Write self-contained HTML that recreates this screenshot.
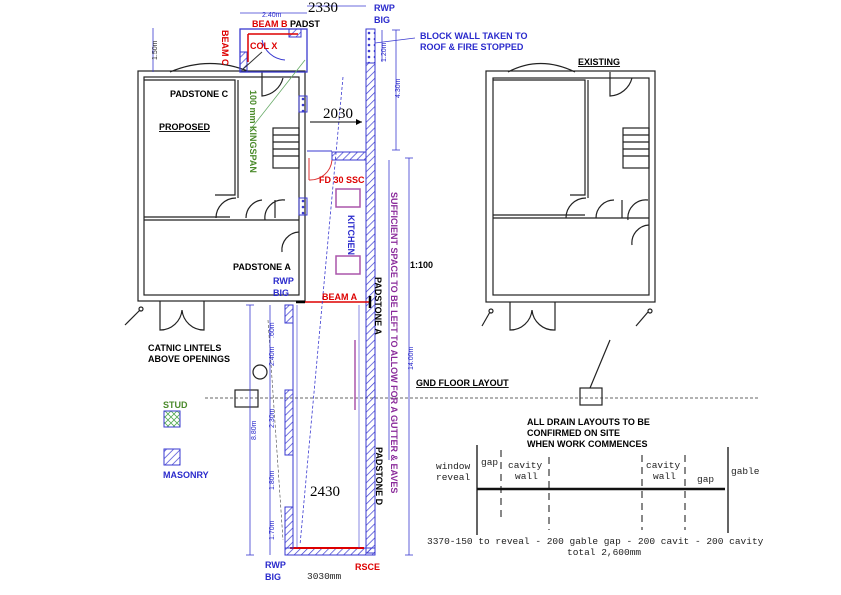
<!DOCTYPE html>
<html><head><meta charset="utf-8"><style>
html,body{margin:0;padding:0;background:#fff;width:841px;height:595px;overflow:hidden}
svg{display:block}
.b{font-family:"Liberation Sans",sans-serif;font-weight:bold;font-size:9px}
.m{font-family:"Liberation Mono",monospace;font-size:9.5px;fill:#222}
.s{font-family:"Liberation Serif",serif;font-size:15px}
</style></head><body>
<svg width="841" height="595" viewBox="0 0 841 595" xmlns="http://www.w3.org/2000/svg">
<defs>
<pattern id="h" width="5" height="5" patternUnits="userSpaceOnUse" patternTransform="rotate(45)"><line x1="0" y1="0" x2="0" y2="5" stroke="#3a3ad0" stroke-width="1.4"/></pattern>
<pattern id="d" width="6" height="6" patternUnits="userSpaceOnUse"><circle cx="3" cy="3" r="1.3" fill="#3a3ad0"/></pattern>
<pattern id="g" width="6" height="6" patternUnits="userSpaceOnUse"><path d="M0 0L6 6M6 0L0 6" stroke="#5a5" stroke-width="0.8"/></pattern>
</defs>
<g fill="none" stroke="#222" stroke-width="1.2">
<rect x="138" y="71" width="167" height="230"/>
<rect x="144" y="77" width="155" height="218"/>
<line x1="144" y1="220" x2="299" y2="220"/><line x1="144" y1="217" x2="230" y2="217"/>
<polyline points="144,80 235,80 235,195 215,195"/><polyline points="238,80 238,198"/>
<path d="M170 72 Q 210 55 250 72"/>
<path d="M262 72 V96 A24 24 0 0 0 283 78"/>
<rect x="273" y="128" width="26" height="40"/>
<line x1="273" y1="135" x2="299" y2="135"/><line x1="273" y1="142" x2="299" y2="142"/><line x1="273" y1="149" x2="299" y2="149"/><line x1="273" y1="156" x2="299" y2="156"/>
<path d="M216 218 A20 20 0 0 1 236 198"/><path d="M246 218 A18 18 0 0 1 262 200"/><path d="M265 220 A18 18 0 0 1 285 200"/>
<path d="M282 252 A18 18 0 0 1 299 232"/>
<line x1="275" y1="200" x2="275" y2="218"/>
<path d="M160 301 V330 A22 22 0 0 0 182 310 M204 301 V330 A22 22 0 0 1 182 310"/>
<line x1="125" y1="325" x2="140" y2="310"/><circle cx="141" cy="309" r="2"/>
<rect x="486" y="71" width="169" height="231"/>
<rect x="493" y="78" width="156" height="217"/>
<line x1="493" y1="218" x2="649" y2="218"/><line x1="493" y1="215" x2="585" y2="215"/>
<polyline points="493,80 585,80 585,195 570,195"/><line x1="588" y1="80" x2="588" y2="198"/>
<path d="M508 72 Q 540 55 575 72"/>
<path d="M610 72 V96 A24 24 0 0 0 632 78"/>
<rect x="623" y="128" width="26" height="40"/>
<line x1="623" y1="135" x2="649" y2="135"/><line x1="623" y1="142" x2="649" y2="142"/><line x1="623" y1="149" x2="649" y2="149"/><line x1="623" y1="156" x2="649" y2="156"/>
<path d="M566 218 A20 20 0 0 1 586 198"/><path d="M596 218 A18 18 0 0 1 614 200"/><path d="M628 220 A18 18 0 0 1 648 200"/>
<path d="M632 245 A18 18 0 0 1 649 225"/><line x1="622" y1="200" x2="622" y2="218"/>
<path d="M510 302 V330 A22 22 0 0 0 532 310 M555 302 V330 A22 22 0 0 1 532 310"/>
<line x1="482" y1="326" x2="490" y2="312"/><circle cx="491" cy="311" r="2"/>
<line x1="636" y1="326" x2="648" y2="312"/><circle cx="650" cy="311" r="2"/>
<rect x="580" y="388" width="22" height="17"/><line x1="590" y1="388" x2="610" y2="340"/>
<rect x="235" y="390" width="23" height="17"/>
<circle cx="260" cy="372" r="7"/>
</g>
<line x1="205" y1="398" x2="760" y2="398" stroke="#333" stroke-dasharray="3,2" stroke-width="0.8"/>
<rect x="240" y="29" width="67" height="43" fill="none" stroke="#3a3ad0" stroke-width="1.3"/>
<rect x="240" y="52" width="7" height="20" fill="url(#h)" stroke="#3a3ad0"/>
<rect x="289" y="29" width="12" height="8" fill="url(#h)" stroke="#3a3ad0"/>
<polyline points="248,34 298,34" stroke="#d00" stroke-width="1.5" fill="none"/>
<line x1="248" y1="34" x2="248" y2="62" stroke="#d00" stroke-width="1.5"/>
<path d="M262 40 A25 25 0 0 0 285 60" fill="none" stroke="#3a3ad0"/>
<line x1="242" y1="70" x2="262" y2="52" stroke="#333"/>
<line x1="250" y1="130" x2="305" y2="60" stroke="#6a6" stroke-width="0.8"/>
<rect x="299" y="96" width="8" height="16" fill="url(#d)" stroke="#3a3ad0"/>
<rect x="299" y="198" width="8" height="17" fill="url(#d)" stroke="#3a3ad0"/>
<rect x="366" y="29" width="9" height="34" fill="url(#d)" stroke="#3a3ad0"/>
<rect x="366" y="63" width="9" height="490" fill="url(#h)" stroke="#3a3ad0"/>
<rect x="285" y="548" width="90" height="7" fill="url(#h)" stroke="#3a3ad0"/>
<line x1="290" y1="548" x2="364" y2="548" stroke="#d00" stroke-width="2"/>
<rect x="285" y="305" width="8" height="18" fill="url(#h)" stroke="#3a3ad0"/>
<rect x="285" y="390" width="8" height="65" fill="url(#h)" stroke="#3a3ad0"/>
<rect x="285" y="507" width="8" height="41" fill="url(#h)" stroke="#3a3ad0"/>
<line x1="293" y1="323" x2="293" y2="390" stroke="#3a3ad0"/><line x1="293" y1="455" x2="293" y2="507" stroke="#3a3ad0"/>
<line x1="297" y1="305" x2="297" y2="548" stroke="#3a3ad0" stroke-width="0.6"/>
<line x1="359" y1="305" x2="359" y2="548" stroke="#3a3ad0" stroke-width="0.6"/>
<rect x="332" y="152" width="34" height="8" fill="url(#h)" stroke="#3a3ad0"/>
<line x1="307" y1="151" x2="332" y2="151" stroke="#3a3ad0"/>
<path d="M309 180 A22 22 0 0 0 332 160" fill="none" stroke="#d33"/>
<line x1="309" y1="158" x2="309" y2="180" stroke="#d33"/>
<rect x="336" y="189" width="24" height="18" fill="none" stroke="#a5a" stroke-width="1.5"/>
<rect x="336" y="256" width="24" height="18" fill="none" stroke="#a5a" stroke-width="1.5"/>
<line x1="300" y1="302" x2="370" y2="302" stroke="#d00" stroke-width="1.5"/>
<line x1="296" y1="302" x2="305" y2="302" stroke="#000" stroke-width="2.5"/>
<line x1="370" y1="296" x2="370" y2="308" stroke="#000" stroke-width="2.5"/>
<line x1="355" y1="340" x2="355" y2="410" stroke="#a5a" stroke-width="1.5"/>
<line x1="343" y1="77" x2="300" y2="545" stroke="#3a3ad0" stroke-dasharray="3,2" stroke-width="0.8"/>
<line x1="268" y1="320" x2="283" y2="540" stroke="#444" stroke-dasharray="3,2" stroke-width="0.6"/>
<g stroke="#3a3ad0" stroke-width="0.8" fill="none">
<line x1="250" y1="305" x2="250" y2="555"/><line x1="246" y1="305" x2="254" y2="305"/><line x1="246" y1="555" x2="254" y2="555"/>
<line x1="270" y1="305" x2="270" y2="555"/>
<line x1="409" y1="158" x2="409" y2="555"/><line x1="405" y1="158" x2="413" y2="158"/><line x1="405" y1="555" x2="413" y2="555"/>
<line x1="389" y1="160" x2="389" y2="460"/>
<line x1="396" y1="30" x2="396" y2="150"/><line x1="392" y1="30" x2="400" y2="30"/><line x1="392" y1="150" x2="400" y2="150"/>
<line x1="382" y1="30" x2="382" y2="62"/>
<line x1="375" y1="43" x2="415" y2="38"/>
<line x1="307" y1="6" x2="366" y2="6"/>
<line x1="240" y1="13" x2="307" y2="13"/>
<line x1="153" y1="28" x2="153" y2="72"/>
</g>
<line x1="310" y1="122" x2="362" y2="122" stroke="#000"/><path d="M362 122 l-6 -3 v6z"/>
<rect x="164" y="411" width="16" height="16" fill="url(#g)" stroke="#3a3ad0"/>
<rect x="164" y="449" width="16" height="16" fill="url(#h)" stroke="#3a3ad0"/>
<g stroke="#111">
<line x1="477" y1="489" x2="725" y2="489" stroke-width="2.5"/>
<line x1="477" y1="445" x2="477" y2="535" stroke-width="1.3"/>
<line x1="728" y1="447" x2="728" y2="533" stroke-width="1.3"/>
<g stroke-dasharray="7,5" stroke-width="1"><line x1="501" y1="450" x2="501" y2="520"/><line x1="549" y1="457" x2="549" y2="530"/><line x1="642" y1="455" x2="642" y2="530"/><line x1="685" y1="455" x2="685" y2="530"/></g>
</g>
<text class="b" x="252" y="27" fill="#d00">BEAM B</text><text class="b" x="290" y="27">PADST</text>
<text class="b" x="250" y="49" fill="#d00">COL X</text>
<text class="b" fill="#d00" transform="translate(222,30) rotate(90)">BEAM C</text>
<text class="b" x="170" y="97">PADSTONE C</text>
<text class="b" x="159" y="130" font-size="12" text-decoration="underline">PROPOSED</text>
<text class="b" fill="#4a8a2a" transform="translate(250,90) rotate(90)">100 mm KINGSPAN</text>
<text class="b" x="319" y="183" fill="#d00">FD 30 SSC</text>
<text class="b" fill="#2a2acc" transform="translate(348,215) rotate(90)">KITCHEN</text>
<text class="b" x="233" y="270">PADSTONE A</text>
<text class="b" x="273" y="284" fill="#2a2acc">RWP</text><text class="b" x="273" y="296" fill="#2a2acc">BIG</text>
<text class="b" x="322" y="300" fill="#d00">BEAM A</text>
<text class="b" transform="translate(375,277) rotate(90)">PADSTONE A</text>
<text class="b" transform="translate(376,447) rotate(90)">PADSTONE D</text>
<text class="b" fill="#8a2a9a" transform="translate(391,192) rotate(90)">SUFFICIENT SPACE TO BE LEFT TO ALLOW FOR A GUTTER &amp; EAVES</text>
<text class="b" x="410" y="268">1:100</text>
<text class="b" x="374" y="11" fill="#2a2acc">RWP</text><text class="b" x="374" y="23" fill="#2a2acc">BIG</text>
<text class="b" x="420" y="39" fill="#2a2acc">BLOCK WALL TAKEN TO</text>
<text class="b" x="420" y="50" fill="#2a2acc">ROOF &amp; FIRE STOPPED</text>
<text class="b" x="578" y="65" font-size="10.5" text-decoration="underline">EXISTING</text>
<text class="b" x="416" y="386" font-size="11" text-decoration="underline">GND FLOOR LAYOUT</text>
<text class="b" x="148" y="351">CATNIC LINTELS</text><text class="b" x="148" y="362">ABOVE OPENINGS</text>
<text class="b" x="163" y="408" fill="#4a8a2a">STUD</text>
<text class="b" x="163" y="478" fill="#2a2acc">MASONRY</text>
<text class="b" x="265" y="568" fill="#2a2acc">RWP</text><text class="b" x="265" y="580" fill="#2a2acc">BIG</text>
<text class="b" x="355" y="570" fill="#d00">RSCE</text>
<text class="m" x="307" y="579" font-size="9">3030mm</text>
<text class="s" x="308" y="12">2330</text>
<text class="s" x="323" y="118">2030</text>
<text class="s" x="310" y="496">2430</text>
<text class="b" x="527" y="425">ALL DRAIN LAYOUTS TO BE</text>
<text class="b" x="527" y="436">CONFIRMED ON SITE</text>
<text class="b" x="527" y="447">WHEN WORK COMMENCES</text>
<text class="m" x="436" y="469">window</text><text class="m" x="436" y="480">reveal</text>
<text class="m" x="481" y="465">gap</text>
<text class="m" x="508" y="468">cavity</text><text class="m" x="515" y="479">wall</text>
<text class="m" x="646" y="468">cavity</text><text class="m" x="653" y="479">wall</text>
<text class="m" x="697" y="482">gap</text>
<text class="m" x="731" y="474">gable</text>
<text class="m" x="427" y="544">3370-150 to reveal  - 200  gable gap - 200 cavit - 200 cavity</text>
<text class="m" x="567" y="555">total 2,600mm</text>
<g font-family="Liberation Sans,sans-serif" font-size="7" fill="#2a2acc">
<text x="262" y="17">2.40m</text>
<text transform="translate(157,60) rotate(-90)" fill="#333">1.50m</text>
<text transform="translate(386,62) rotate(-90)">1.20m</text>
<text transform="translate(400,98) rotate(-90)">4.30m</text>
<text transform="translate(413,370) rotate(-90)">14.00m</text>
<text transform="translate(256,440) rotate(-90)">8.80m</text>
<text transform="translate(274,338) rotate(-90)">.60m</text>
<text transform="translate(274,366) rotate(-90)">2.40m</text>
<text transform="translate(274,428) rotate(-90)">2.30m</text>
<text transform="translate(274,490) rotate(-90)">1.80m</text>
<text transform="translate(274,540) rotate(-90)">1.70m</text>
</g>
</svg>
</body></html>
